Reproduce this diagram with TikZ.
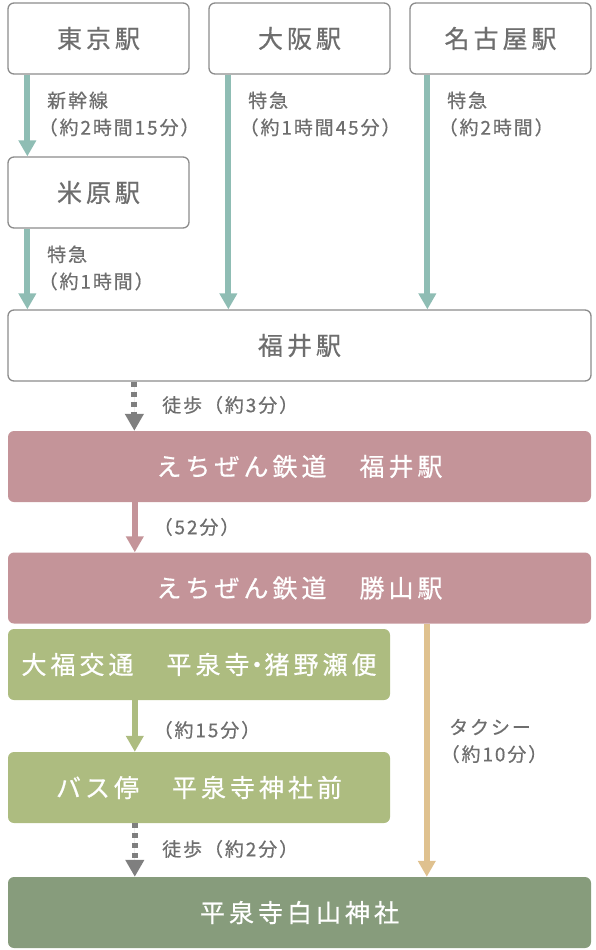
\documentclass[tikz,border=0pt]{standalone}
\usepackage{fontspec}
\usetikzlibrary{arrows.meta}
\newfontfamily\boxfont[LetterSpace=16,FakeBold=0.6]{Noto Sans CJK JP}
\newfontfamily\labfont[LetterSpace=10,FakeBold=0.5]{Noto Sans CJK JP}
\definecolor{txtgray}{HTML}{6E6E6E}
\definecolor{bordergray}{HTML}{8C8C8C}
\definecolor{tealc}{HTML}{8FBDB4}
\definecolor{pinkc}{HTML}{C49499}
\definecolor{lgreenc}{HTML}{ADBC80}
\definecolor{dgreenc}{HTML}{879C7C}
\definecolor{tanc}{HTML}{DFC18F}
\definecolor{walkc}{HTML}{7F7F7F}
\tikzset{
  box/.style={rounded corners=6pt, minimum height=71pt, inner sep=0pt, align=center,
    font=\boxfont\fontsize{25}{25}\selectfont},
  wbox/.style={box, draw=bordergray, line width=1.3pt, fill=white, text=txtgray},
  pbox/.style={box, fill=pinkc, text=white},
  gbox/.style={box, fill=lgreenc, text=white},
  dbox/.style={box, fill=dgreenc, text=white},
  narrowbox/.style={minimum width=181pt},
  midbox/.style={minimum width=382pt},
  widebox/.style={minimum width=583pt},
  lab/.style={anchor=west, align=left, text=txtgray, inner sep=0pt,
    font=\labfont\fontsize{19}{27}\selectfont},
  arr/.style={line width=6pt, -{Triangle[width=17pt,length=16pt]}},
  tealarr/.style={arr, draw=tealc, fill=tealc},
  pinkarr/.style={arr, draw=pinkc, fill=pinkc},
  greenarr/.style={arr, draw=lgreenc, fill=lgreenc},
  taxiarr/.style={arr, draw=tanc, fill=tanc},
  walkarr/.style={line width=6pt, draw=walkc, fill=walkc, dash pattern=on 5pt off 5pt,
    -{Triangle[width=18pt,length=17pt]}}
}
\begin{document}
\begin{tikzpicture}[x=1pt,y=-1pt]
\useasboundingbox (0,0) rectangle (596,950);
% boxes
\node[wbox,narrowbox] (tokyo) at (98.5,38.5) {東京駅};
\node[wbox,narrowbox] (osaka) at (299.5,38.5) {大阪駅};
\node[wbox,narrowbox] (nagoya) at (500.5,38.5) {名古屋駅};
\node[wbox,narrowbox] (maibara) at (98.5,192.5) {米原駅};
\node[wbox,widebox] (fukui) at (299.5,345.5) {福井駅};
\node[pbox,widebox] (echi) at (299.5,466.5) {えちぜん鉄道　福井駅};
\node[pbox,widebox] (katsu) at (299.5,588) {えちぜん鉄道　勝山駅};
\node[gbox,midbox] (daifuku) at (199,664.5) {大福交通　平泉寺\kern-0.2em・\kern-0.2em猪野瀬便};
\node[gbox,midbox] (bus) at (199,787.5) {バス停　平泉寺神社前};
\node[dbox,widebox] (shrine) at (299.5,912.5) {平泉寺白山神社};
% connectors
\draw[tealarr] ([xshift=20pt]tokyo.south west) -- ([xshift=20pt]maibara.north west);
\draw[tealarr] ([xshift=20pt]maibara.south west) -- ([xshift=20pt]fukui.north west);
\coordinate (oa) at ([xshift=20pt]osaka.south west);
\draw[tealarr] (oa) -- (oa |- fukui.north);
\coordinate (na) at ([xshift=18pt]nagoya.south west);
\draw[tealarr] (na) -- (na |- fukui.north);
\coordinate (w1) at ([xshift=127pt]fukui.south west);
\draw[walkarr] (w1) -- (w1 |- echi.north);
\coordinate (p1) at ([xshift=127pt]echi.south west);
\draw[pinkarr] (p1) -- (p1 |- katsu.north);
\coordinate (g1) at ([xshift=127pt]daifuku.south west);
\draw[greenarr] (g1) -- (g1 |- bus.north);
\coordinate (w2) at ([xshift=127pt]bus.south west);
\draw[walkarr] (w2) -- (w2 |- shrine.north);
\coordinate (t1) at ([xshift=419pt]katsu.south west);
\draw[taxiarr] (t1) -- (t1 |- shrine.north);
% labels
\node[lab] (ltokyo) at (47,114) {新幹線\\\kern-0.45em（約2時間15分）};
\node[lab] (lmaibara) at (47,268) {特急\\\kern-0.45em（約1時間）};
\node[lab] (losaka) at (248,114) {特急\\\kern-0.45em（約1時間45分）};
\node[lab] (lnagoya) at (447,114) {特急\\\kern-0.45em（約2時間）};
\node[lab] (lwalk1) at (162,405) {徒歩（約3分）};
\node[lab] (l52) at (162,527) {\kern-0.45em（52分）};
\node[lab] (l15) at (162,730) {\kern-0.45em（約15分）};
\node[lab] (ltaxi) at (449,741) {タクシー\\\kern-0.45em（約10分）};
\node[lab] (lwalk2) at (162,849) {徒歩（約2分）};
\end{tikzpicture}
\end{document}
